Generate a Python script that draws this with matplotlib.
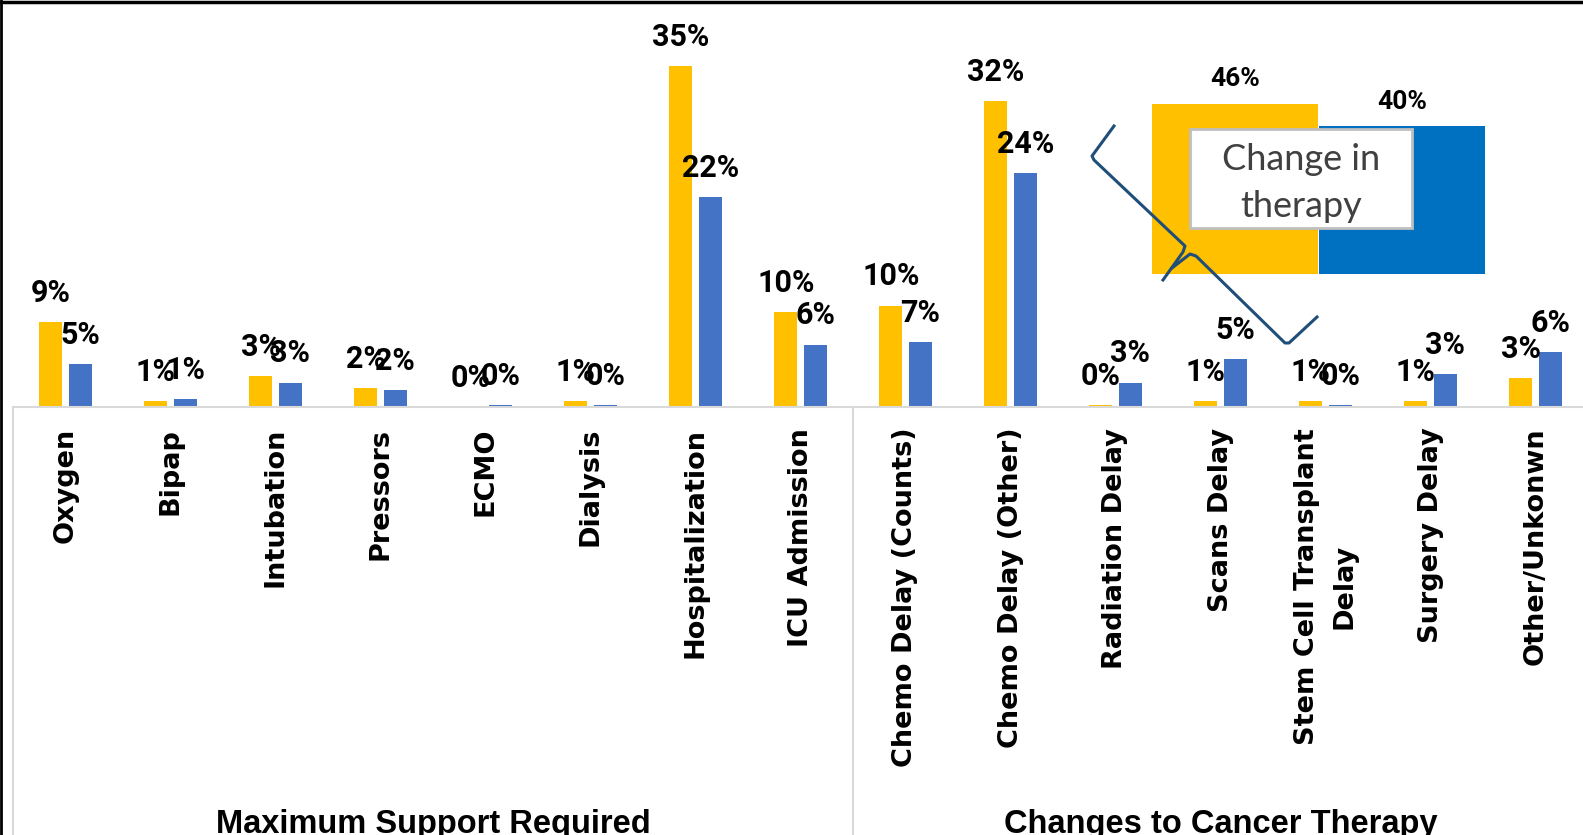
import matplotlib.pyplot as plt
import matplotlib.transforms as mtransforms
from matplotlib.lines import Line2D
from matplotlib.patches import Rectangle
import numpy as np

# Data
categories = ['Oxygen', 'Bipap', 'Intubation', 'Pressors', 'ECMO', 'Dialysis',
              'Hospitalization', 'ICU Admission', 'Chemo Delay (Counts)',
              'Chemo Delay (Other)', 'Radiation Delay', 'Scans Delay',
              'Stem Cell Transplant\nDelay', 'Surgery Delay', 'Other/Unkonwn']
yellow_vals = [8.7, 0.6, 3.2, 1.9, 0.0, 0.6, 35.0, 9.7, 10.4, 31.4, 0.2, 0.6, 0.6, 0.6, 3.0]
blue_vals = [4.4, 0.8, 2.5, 1.7, 0.2, 0.2, 21.5, 6.4, 6.7, 24.0, 2.5, 4.9, 0.2, 3.4, 5.6]
yellow_labels = ['9%', '1%', '3%', '2%', '0%', '1%', '35%', '10%', '10%', '32%', '0%', '1%', '1%', '1%', '3%']
blue_labels = ['5%', '1%', '3%', '2%', '0%', '0%', '22%', '6%', '7%', '24%', '3%', '5%', '0%', '3%', '6%']
groups = ['Maximum Support Required', 'Changes to Cancer Therapy']
group_centers = [3.5, 11.0]
inset_vals = [46, 40]
inset_labels = ['46%', '40%']

W, H = 1583, 835
fig = plt.figure(figsize=(W / 100, H / 100), dpi=100)
label_font = ['Roboto', 'DejaVu Sans']

# main axes, placed in pixels
px_per_pct = 9.75
ax_left, ax_bottom, ax_w, ax_h = 13, 407, 15 * 105, 397
ax = fig.add_axes([ax_left / W, 1 - ax_bottom / H, ax_w / W, ax_h / H])
x = np.arange(len(categories))
ax.bar(x - 0.14, yellow_vals, width=0.22, color='#FFC000')
ax.bar(x + 0.14, blue_vals, width=0.22, color='#4472C4')
ax.set_xlim(-0.5, len(categories) - 0.5)
ax.set_ylim(0, ax_h / px_per_pct)

for xi, v, lab in zip(x, yellow_vals, yellow_labels):
    ax.annotate(lab, (xi - 0.14, v), xytext=(0, 21), textcoords='offset points',
                ha='center', va='center', fontsize=22, fontweight='bold', family=label_font)
for xi, v, lab in zip(x, blue_vals, blue_labels):
    ax.annotate(lab, (xi + 0.14, v), xytext=(0, 21), textcoords='offset points',
                ha='center', va='center', fontsize=22, fontweight='bold', family=label_font)

for s in ['top', 'right', 'left']:
    ax.spines[s].set_visible(False)
ax.spines['bottom'].set_color('#D9D9D9')
ax.spines['bottom'].set_linewidth(1.5)
ax.set_yticks([])
ax.set_xticks(x)
ax.set_xticklabels(categories, rotation=90, fontsize=19.5, fontweight='bold',
                   family='DejaVu Sans', linespacing=1.6)
ax.tick_params(axis='x', length=0, pad=15)

# group separators and labels
trans = mtransforms.blended_transform_factory(ax.transData, ax.transAxes)
for sx in [-0.5, 7.5]:
    ax.plot([sx, sx], [0, -1.2], color='#D9D9D9', lw=1.5, transform=trans, clip_on=False)
gtrans = mtransforms.blended_transform_factory(ax.transData, fig.transFigure)
for gx, g in zip(group_centers, groups):
    ax.text(gx, 1 - 833 / H, g, transform=gtrans, ha='center', va='baseline',
            fontsize=23.5, fontweight='bold', family=['Liberation Sans', 'DejaVu Sans'])

# inset
in_left, in_right, in_bottom, in_top = 1151, 1486, 274, 60
iax = fig.add_axes([in_left / W, 1 - in_bottom / H, (in_right - in_left) / W, (in_bottom - in_top) / H])
iax.bar([0, 1], inset_vals, width=0.99, color=['#FFC000', '#0070C0'])
iax.set_xlim(-0.5, 1.5)
iax.set_ylim(0, (in_bottom - in_top) / 3.7)
iax.axis('off')
for xi, v, lab in zip([0, 1], inset_vals, inset_labels):
    iax.annotate(lab, (xi, v), xytext=(0, 17.5), textcoords='offset points',
                 ha='center', va='center', fontsize=19, fontweight='bold', family=label_font)

# text box
fig.add_artist(Rectangle((1190 / W, 1 - 228 / H), 222 / W, 99 / H, transform=fig.transFigure,
                         facecolor='white', edgecolor='#BFBFBF', lw=2))
fig.text(1301 / W, 1 - 183 / H, 'Change in\ntherapy', ha='center', va='center',
         fontsize=26, color='#404040', family='Lato', linespacing=1.5)

# brace
def fpts(pts):
    return [p[0] / W for p in pts], [1 - p[1] / H for p in pts]

for pts in [[(1114, 126), (1092, 156), (1094, 160), (1185, 246), (1183, 252), (1163, 280)],
            [(1172, 268), (1190, 254), (1196, 256), (1285, 343), (1289, 343), (1317, 317)]]:
    xs, ys = fpts(pts)
    fig.add_artist(Line2D(xs, ys, transform=fig.transFigure, color='#1F4E79', lw=2.2))

# frame
fig.add_artist(Line2D([0, 1], [1 - 2 / H, 1 - 2 / H], transform=fig.transFigure, color='black', lw=2.5))
fig.add_artist(Line2D([1 / W, 1 / W], [0, 1], transform=fig.transFigure, color='black', lw=2))

fig.savefig('out.png', dpi=100)
